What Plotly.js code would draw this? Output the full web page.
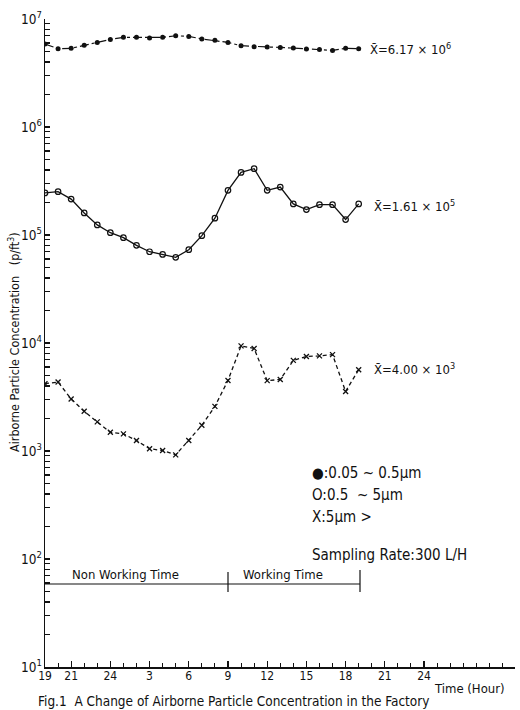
<!DOCTYPE html>
<html>
<head>
<meta charset="utf-8">
<script src="https://cdn.plot.ly/plotly-3.0.1.min.js"></script>
<style>
  html, body { margin: 0; padding: 0; background: #fff; }
  #chart { width: 520px; height: 710px; }
</style>
</head>
<body>
<div id="chart"></div>
<script>
// ---- data ----
// hours elapsed since 19:00 on the first day
const hours = [0, 1, 2, 3, 4, 5, 6, 7, 8, 9, 10, 11, 12, 13, 14, 15, 16, 17, 18, 19, 20, 21, 22, 23, 24];
// 0.05 ~ 0.5 um particles (filled dots)
const fineParticles = [5.87e6, 5.31e6, 5.35e6, 5.70e6, 6.07e6, 6.47e6, 6.76e6, 6.76e6, 6.67e6, 6.76e6, 7.00e6, 6.90e6, 6.53e6,
                       6.34e6, 6.07e6, 5.66e6, 5.54e6, 5.51e6, 5.46e6, 5.38e6, 5.27e6, 5.23e6, 5.12e6, 5.35e6, 5.31e6];
// 0.5 ~ 5 um particles (open circles)
const mediumParticles = [2.45e5, 2.52e5, 2.15e5, 1.60e5, 1.24e5, 1.05e5, 9.44e4, 8.02e4, 7.00e4, 6.61e4, 6.21e4, 7.31e4, 9.86e4,
                         1.43e5, 2.59e5, 3.80e5, 4.11e5, 2.59e5, 2.78e5, 1.94e5, 1.72e5, 1.91e5, 1.91e5, 1.39e5, 1.94e5];
// > 5 um particles (crosses)
const coarseParticles = [4.20e3, 4.35e3, 3.03e3, 2.33e3, 1.86e3, 1.49e3, 1.44e3, 1.25e3, 1.05e3, 1.01e3, 9.2e2, 1.25e3, 1.73e3,
                         2.59e3, 4.50e3, 9.40e3, 8.90e3, 4.48e3, 4.60e3, 6.90e3, 7.50e3, 7.60e3, 7.80e3, 3.56e3, 5.66e3];

const xTickHours = [0, 2, 5, 8, 11, 14, 17, 20, 23, 26, 29];
const xTickLabels = ['19', '21', '24', '3', '6', '9', '12', '15', '18', '21', '24'];
const yDecades = [1, 2, 3, 4, 5, 6, 7];

const meanLabels = ['X\u0304=6.17 \u00d7 10<sup>6</sup>', 'X\u0304=1.61 \u00d7 10<sup>5</sup>', 'X\u0304=4.00 \u00d7 10<sup>3</sup>'];
const legendLines = ['\u25cf:0.05 ~ 0.5\u03bcm', 'O:0.5 \u00a0~ 5\u03bcm', 'X:5\u03bcm >'];
const periodLabels = ['Non Working Time', 'Working Time'];

// ---- geometry helpers (pixel -> paper) ----
const L = 45, R = 5, T = 19, B = 43, W = 520, H = 710;
const PW = W - L - R, PH = H - T - B;
const px = v => (v - L) / PW;
const py = v => (H - B - v) / PH;

const FONT = 'DejaVu Sans Condensed, Liberation Sans Narrow, DejaVu Sans, sans-serif';

// y ticks: every 1..9 multiple of each decade, labels only on decades
const yTickVals = [], yTickText = [];
yDecades.forEach((d, i) => {
  for (let m = 1; m <= 9; m++) {
    if (i === yDecades.length - 1 && m > 1) break;
    yTickVals.push(m * Math.pow(10, d));
    yTickText.push(m === 1 ? '10<sup>' + d + '</sup>' : '');
  }
});

const traces = [
  {
    x: hours, y: fineParticles, type: 'scatter', mode: 'lines+markers',
    line: { color: '#111', width: 1.2, dash: 'dashdot' },
    marker: { symbol: 'circle', size: 5, color: '#111' },
    name: '0.05-0.5um'
  },
  {
    x: hours, y: mediumParticles, type: 'scatter', mode: 'lines+markers',
    line: { color: '#111', width: 1.3 },
    marker: { symbol: 'circle-open', size: 5.5, color: '#111', line: { width: 1.2, color: '#111' } },
    name: '0.5-5um'
  },
  {
    x: hours, y: coarseParticles, type: 'scatter', mode: 'lines+markers',
    line: { color: '#111', width: 1.3, dash: '4px,3px' },
    marker: { symbol: 'x-thin', size: 5, color: '#111', line: { width: 1.3, color: '#111' } },
    name: '>5um'
  }
];

const annotations = [];
function addText(text, x, y, size, opts) {
  annotations.push(Object.assign({
    text: text, xref: 'paper', yref: 'paper', x: px(x), y: py(y),
    showarrow: false, xanchor: 'left', yanchor: 'middle',
    font: { family: FONT, size: size, color: '#111' }
  }, opts || {}));
}
// mean labels
addText(meanLabels[0], 368, 49, 13);
addText(meanLabels[1], 372, 206, 13);
addText(meanLabels[2], 372, 369, 13);
// legend block
addText(legendLines[0], 310, 473, 15);
addText(legendLines[1], 310, 495, 15);
addText(legendLines[2], 310, 517, 15);
addText('Sampling Rate:300 L/H', 310, 555, 15);
// working-time bar labels
addText(periodLabels[0], 125, 584, 13, { xanchor: 'center', yanchor: 'bottom' });
addText(periodLabels[1], 283, 584, 13, { xanchor: 'center', yanchor: 'bottom' });
// axis titles and caption
addText('Time (Hour)', 432, 688, 13);
addText('Airborne Particle Concentration \u00a0 (p/ft<sup>3</sup>)', 14, 342, 12.5, { xanchor: 'center', textangle: -90 });
addText('Fig.1 \u00a0A Change of Airborne Particle Concentration in the Factory', 36, 701, 13.5);

const shapes = [
  { type: 'line', xref: 'paper', yref: 'paper', x0: px(45), x1: px(360), y0: py(584), y1: py(584), line: { color: '#111', width: 1.2 } },
  { type: 'line', xref: 'paper', yref: 'paper', x0: px(228), x1: px(228), y0: py(572), y1: py(592), line: { color: '#111', width: 1.2 } },
  { type: 'line', xref: 'paper', yref: 'paper', x0: px(360), x1: px(360), y0: py(570), y1: py(592), line: { color: '#111', width: 1.2 } }
];

const layout = {
  width: W, height: H,
  margin: { l: L, r: R, t: T, b: B, pad: 0 },
  paper_bgcolor: '#fff', plot_bgcolor: '#fff',
  showlegend: false,
  font: { family: FONT, color: '#111' },
  xaxis: {
    range: [0, 35.96], showgrid: false, zeroline: false,
    showline: true, linecolor: '#111', linewidth: 1.5,
    tickmode: 'array', tickvals: xTickHours, ticktext: xTickLabels,
    ticks: 'inside', ticklen: 6, tickwidth: 1.2, tickcolor: '#111',
    ticklabelstandoff: -3,
    tickfont: { family: FONT, size: 12, color: '#111' },
    minor: { tickmode: 'linear', tick0: 0, dtick: 1, ticks: 'inside', ticklen: 4, tickwidth: 1, tickcolor: '#111', showgrid: false }
  },
  yaxis: {
    type: 'log', range: [1, 7], showgrid: false, zeroline: false,
    showline: true, linecolor: '#111', linewidth: 1.5,
    tickmode: 'array', tickvals: yTickVals, ticktext: yTickText,
    ticks: 'inside', ticklen: 5, tickwidth: 1.1, tickcolor: '#111',
    ticklabelstandoff: -1,
    tickfont: { family: FONT, size: 13.5, color: '#111' }
  },
  annotations: annotations,
  shapes: shapes
};

Plotly.newPlot('chart', traces, layout, { staticPlot: true, displayModeBar: false });
</script>
</body>
</html>
